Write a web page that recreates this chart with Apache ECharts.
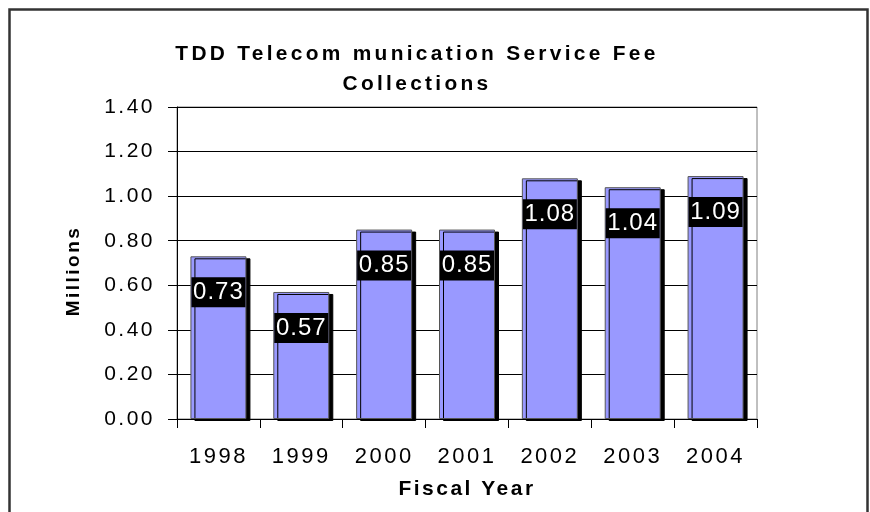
<!DOCTYPE html>
<html><head><meta charset="utf-8">
<script src="https://cdn.jsdelivr.net/npm/echarts@6/dist/echarts.min.js"></script>
<style>html,body{margin:0;padding:0;background:#fff}#c{width:870px;height:512px}</style>
</head><body><div id="c"></div>
<script>
const categories = ['1998','1999','2000','2001','2002','2003','2004'];
const values = [0.73, 0.57, 0.85, 0.85, 1.08, 1.04, 1.09];
const yTicks = [0, 0.2, 0.4, 0.6, 0.8, 1.0, 1.2, 1.4];
const titleText = 'TDD Telecom munication Service Fee\nCollections';
const xName = 'Fiscal Year';
const yName = 'Millions';

// letter-spaced text like the reference: spacing chosen from the font size
(function(){
  const P = CanvasRenderingContext2D.prototype;
  const d = Object.getOwnPropertyDescriptor(P, 'font');
  if (!d || !('letterSpacing' in P)) return;
  function sp(f){
    if (/20\.9px/.test(f)) return '3.3px';
    if (/24px/.test(f)) return '1px';
    return '2.5px';
  }
  Object.defineProperty(P, 'font', {
    configurable: true,
    get(){ return d.get.call(this); },
    set(v){ d.set.call(this, v); this.letterSpacing = sp(String(v)); }
  });
})();

const FONT = '"Liberation Sans", Arial, sans-serif';
const chart = echarts.init(document.getElementById('c'), null, {renderer: 'canvas'});
chart.setOption({
  backgroundColor: '#fff',
  animation: false,
  title: {
    text: titleText,
    left: 412, top: 34, textAlign: 'center',
    textStyle: {fontFamily: FONT, fontSize: 20.9, fontWeight: 'bold', color: '#000', lineHeight: 30}
  },
  graphic: [{
    type: 'rect', shape: {x: 9.5, y: 9.5, width: 858, height: 520},
    style: {fill: 'none', stroke: '#333', lineWidth: 2.5}, silent: true
  }],
  grid: {left: 177, right: 113, top: 107, bottom: 93, show: true, borderColor: '#808080', borderWidth: 1},
  xAxis: {
    type: 'category', data: categories,
    axisLine: {lineStyle: {color: '#000', width: 1}},
    axisTick: {show: true, length: 9, lineStyle: {color: '#000'}},
    axisLabel: {fontFamily: FONT, fontSize: 22, color: '#000', margin: 26},
    name: xName, nameLocation: 'middle', nameGap: 58,
    nameTextStyle: {fontFamily: FONT, fontSize: 21, fontWeight: 'bold', color: '#000'}
  },
  yAxis: {
    type: 'value', min: yTicks[0], max: yTicks[yTicks.length-1], interval: 0.2,
    axisLine: {show: true, lineStyle: {color: '#000'}},
    axisTick: {show: true, length: 9, lineStyle: {color: '#000'}},
    axisLabel: {fontFamily: FONT, fontSize: 21, color: '#000', margin: 22, formatter: v => v.toFixed(2)},
    splitLine: {lineStyle: {color: '#000', width: 1}},
    name: yName, nameLocation: 'middle', nameGap: 92,
    nameTextStyle: {fontFamily: FONT, fontSize: 19, fontWeight: 'bold', color: '#000', padding: [0, 16, 0, 0]}
  },
  series: [{
    type: 'bar', data: values, barWidth: 56,
    itemStyle: {color: '#9999FF', borderColor: '#555', borderWidth: 1,
      shadowColor: '#000', shadowBlur: 0, shadowOffsetX: 4, shadowOffsetY: 2},
    label: {
      show: true, position: 'insideTop', distance: 21,
      formatter: p => p.value.toFixed(2),
      fontFamily: FONT, fontSize: 24, color: '#fff',
      backgroundColor: '#000', width: 54, height: 30, lineHeight: 30, align: 'center', padding: 0
    }
  }]
});
</script></body></html>
